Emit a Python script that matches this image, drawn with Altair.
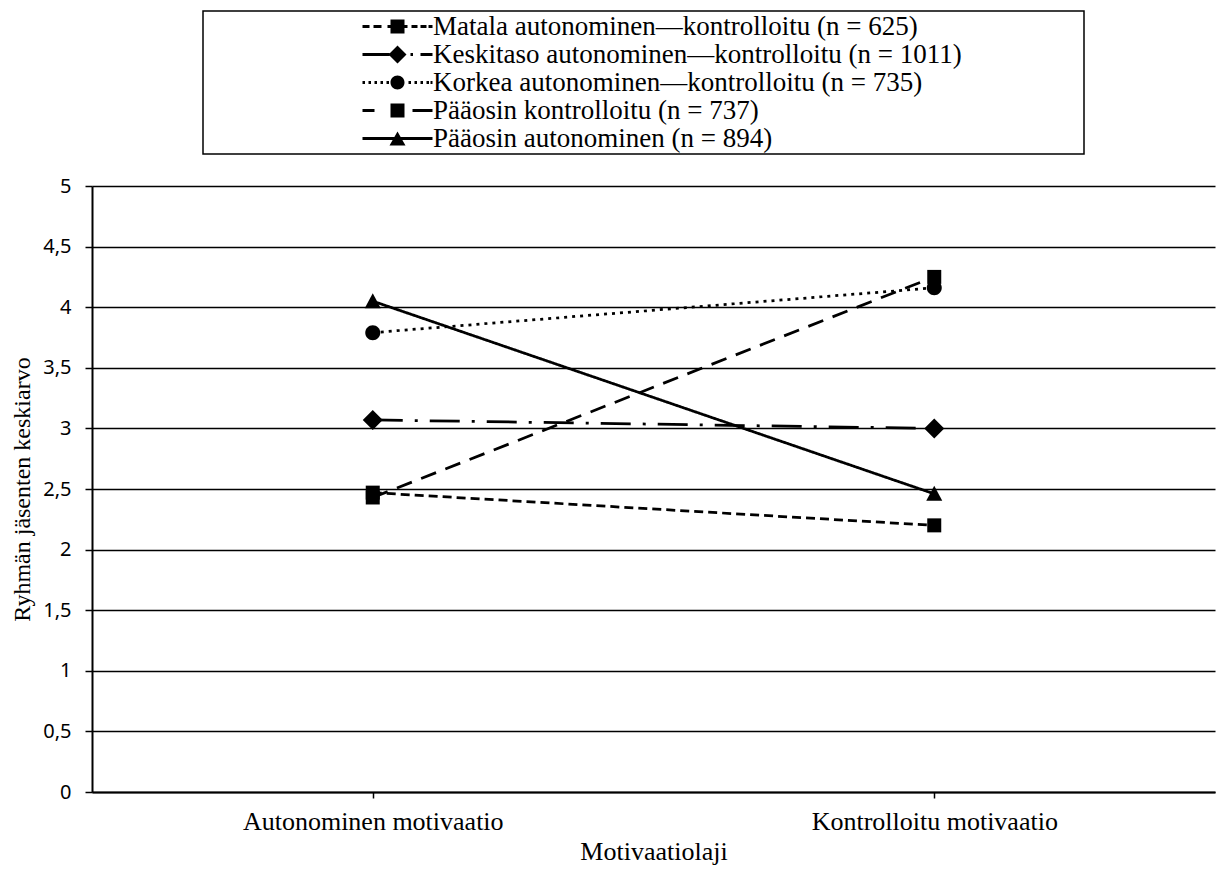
import altair as alt
import pandas as pd

categories = ["Autonominen motivaatio", "Kontrolloitu motivaatio"]
series = [
    "Matala autonominen—kontrolloitu (n = 625)",
    "Keskitaso autonominen—kontrolloitu (n = 1011)",
    "Korkea autonominen—kontrolloitu (n = 735)",
    "Pääosin kontrolloitu (n = 737)",
    "Pääosin autonominen (n = 894)",
]
matala = [2.47, 2.20]
keskitaso = [3.07, 3.00]
korkea = [3.79, 4.16]
paaosin_kontrolloitu = [2.43, 4.25]
paaosin_autonominen = [4.05, 2.46]
y_ticks = [0, 0.5, 1, 1.5, 2, 2.5, 3, 3.5, 4, 4.5, 5]

values = [matala, keskitaso, korkea, paaosin_kontrolloitu, paaosin_autonominen]
rows = []
for s, vals in zip(series, values):
    for c, v in zip(categories, vals):
        rows.append({"Motivaatiolaji": c, "Ryhmä": s, "Keskiarvo": v})
df = pd.DataFrame(rows)

# line styles
dashes = [[9, 5], [30, 12, 3, 12], [3, 5], [16, 10], [1, 0]]

# plot markers (pixel units at size 4)
sq = "M-7,-7H7V7H-7Z"
markers = [
    sq,
    "M0,-10L10,0L0,10L-10,0Z",
    "M-7.5,0A7.5,7.5,0,1,1,7.5,0A7.5,7.5,0,1,1,-7.5,0Z",
    sq,
    "M0,-8L8,7H-8Z",
]


# legend symbols: line sample (thin filled bars) + marker
def bar(a, b, t=1.4):
    return f"M{a},{-t}H{b}V{t}H{a}Z"


def bars(spans):
    return "".join(bar(a, b) for a, b in spans)


lsq = "M-7,-7H7V7H-7Z"
ldia = "M0,-9L9,0L0,9L-9,0Z"
lcirc = "M-7,0A7,7,0,1,1,7,0A7,7,0,1,1,-7,0Z"
ltri = "M0,-7L8,7H-8Z"
legend_syms = [
    bars([(-35, -28), (-24, -16), (-10, 10), (14, 20), (23, 29), (31, 35)]) + lsq,
    bars([(-35, -8), (13, 15.5), (23, 35)]) + ldia,
    bars([(-35, -32.5), (-29, -26.5), (-23, -20.5), (-17, -14.5), (-11, -8.5),
          (11, 13.5), (17, 19.5), (23, 25.5), (29, 31.5), (33, 35)]) + lcirc,
    bars([(-35, -23), (15, 35)]) + lsq,
    bars([(-35, 35)]) + ltri,
]

serif = "Liberation Serif"

x = alt.X(
    "Motivaatiolaji:O",
    scale=alt.Scale(type="point", domain=categories, padding=0.5),
    axis=alt.Axis(
        title="Motivaatiolaji",
        labelAngle=0,
        labelFont=serif,
        labelFontSize=26,
        labelColor="black",
        labelPadding=10,
        labelLimit=0,
        titleFont=serif,
        titleFontSize=26,
        titleFontWeight="normal",
        titleColor="black",
        titlePadding=4,
        domainColor="black",
        domainWidth=2,
        tickColor="black",
        tickWidth=1.5,
        tickSize=6,
        grid=False,
    ),
)
y = alt.Y(
    "Keskiarvo:Q",
    scale=alt.Scale(domain=[0, 5], nice=False),
    axis=alt.Axis(
        title="Ryhmän jäsenten keskiarvo",
        values=y_ticks,
        labelExpr="replace(toString(datum.value), '.', ',')",
        labelFont="Noto Sans",
        labelFontSize=20,
        labelColor="black",
        labelPadding=14,
        titleFont=serif,
        titleFontSize=24,
        titleFontWeight="normal",
        titleColor="black",
        titlePadding=8,
        domainColor="black",
        domainWidth=2,
        tickColor="black",
        tickWidth=1.5,
        tickSize=7,
        grid=True,
        gridColor="black",
        gridWidth=1.5,
    ),
)

lines = alt.Chart(df).mark_line(color="black", strokeWidth=2.75, strokeCap="butt").encode(
    x=x,
    y=y,
    strokeDash=alt.StrokeDash(
        "Ryhmä:N", scale=alt.Scale(domain=series, range=dashes), legend=None
    ),
    detail="Ryhmä:N",
)

points = alt.Chart(df).mark_point(filled=True, color="black", opacity=1, size=4).encode(
    x=x,
    y=y,
    shape=alt.Shape("Ryhmä:N", scale=alt.Scale(domain=series, range=markers), legend=None),
)

legend_layer = (
    alt.Chart(df)
    .transform_filter("false")
    .mark_point(filled=True, color="black", size=4, opacity=1)
    .encode(
        x=x,
        y=y,
        shape=alt.Shape(
            "Ryhmä:N",
            scale=alt.Scale(domain=series, range=legend_syms),
            legend=alt.Legend(
                orient="none",
                legendX=111,
                legendY=-175,
                title=" ",
                titleOrient="right",
                titlePadding=120,
                labelFont=serif,
                labelFontSize=27,
                labelColor="black",
                labelLimit=0,
                labelOffset=22,
                symbolOffset=179,
                symbolSize=4,
                symbolFillColor="black",
                symbolOpacity=1,
                rowPadding=0,
                padding=2,
                strokeColor="black",
                direction="vertical",
            ),
        ),
    )
)

chart = (
    alt.layer(lines, points, legend_layer)
    .resolve_scale(shape="independent")
    .properties(
        width=1123,
        height=606,
        autosize=alt.AutoSizeParams(type="none"),
        padding={"left": 92, "top": 186, "right": 2, "bottom": 83},
        background="white",
    )
    .configure_view(stroke="transparent")
    .configure_legend(strokeWidth=1.5)
)

chart.save("out.html", embed_options={"renderer": "svg", "actions": False})
